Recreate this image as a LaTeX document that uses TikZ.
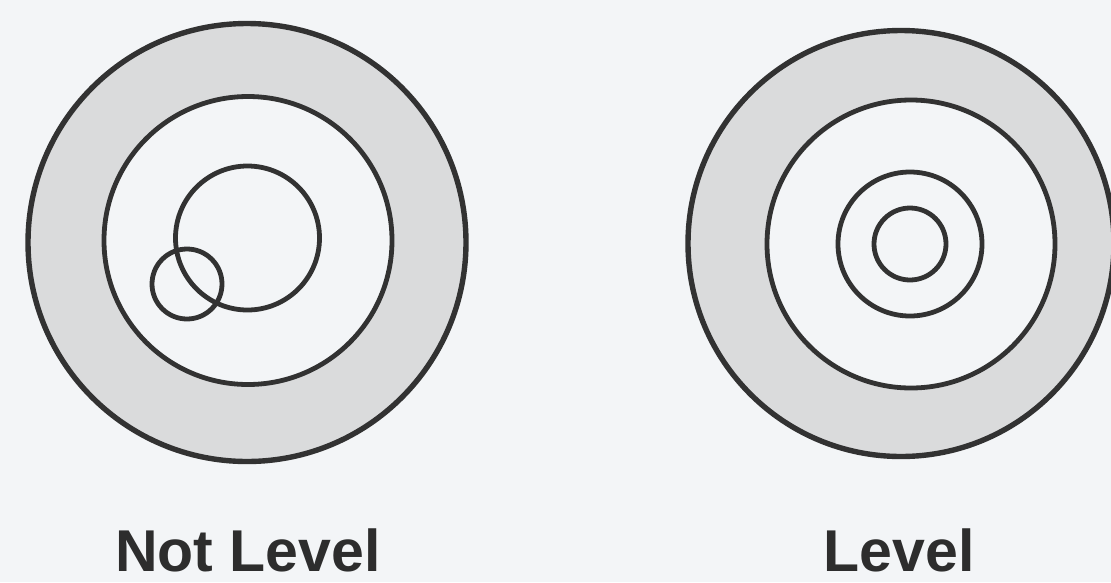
\documentclass[tikz,border=0pt]{standalone}
\usepackage{fontspec}
\setmainfont{Liberation Sans}
\definecolor{bgcol}{RGB}{243,245,247}
\definecolor{ringcol}{RGB}{218,219,220}
\definecolor{linecol}{RGB}{50,50,50}
\begin{document}
\begin{tikzpicture}[x=1pt,y=-1pt,
  ring/.style={draw=linecol, line width=5.4pt},
  thinring/.style={draw=linecol, line width=4.8pt},
  lbl/.style={font=\bfseries\fontsize{59}{61}\selectfont, text=linecol!90!black, anchor=base, inner sep=0pt}]
\fill[bgcol] (0,0) rectangle (1111,582);
\useasboundingbox (0,0) rectangle (1111,582);
% left target
\coordinate (LO) at (247,242.5);
\coordinate (LM) at (248,240.5);
\coordinate (LI) at (247.5,238);
\coordinate (LS) at (187,284);
\fill[ringcol, even odd rule] (LO) circle[radius=221pt] (LM) circle[radius=144pt];
\draw[ring] (LO) circle[radius=219pt];
\draw[thinring] (LM) circle[radius=144pt];
\draw[thinring] (LI) circle[radius=72pt];
\draw[thinring] (LS) circle[radius=35pt];
% right target
\coordinate (RO) at (901,243.5);
\coordinate (RM) at (911,244);
\coordinate (RI) at (910,244);
\fill[ringcol, even odd rule] (RO) circle[radius=215pt] (RM) circle[radius=145pt];
\draw[ring] (RO) circle[radius=213pt];
\draw[thinring] (RM) circle[radius=144pt];
\draw[thinring] (RI) circle[radius=72pt];
\draw[thinring] (RI) circle[radius=36pt];
% labels
\node[lbl] (notlevel) at (248,571) {Not Level};
\node[lbl] (level) at (899,571) {Level};
\end{tikzpicture}
\end{document}
